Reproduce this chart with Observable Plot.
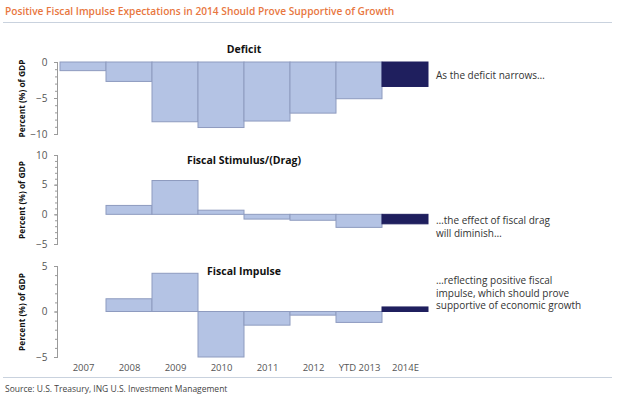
<!DOCTYPE html>
<html>
<head>
<meta charset="utf-8">
<script src="https://cdn.jsdelivr.net/npm/d3@7"></script>
<script src="https://cdn.jsdelivr.net/npm/@observablehq/plot@0.6"></script>
<style>
  body { margin: 0; background: #fff; }
  #chart { position: relative; width: 624px; height: 402px; overflow: hidden; font-family: "Open Sans", sans-serif; }
  .abs { position: absolute; white-space: nowrap; }
  #title { left: 5px; top: 4px; font-size: 10.2px; font-weight: 600; color: #e8773f; }
  .rule { position: absolute; left: 3px; width: 609px; height: 1px; background: #c9d2de; }
  .note { left: 436px; font-size: 10px; color: #333; line-height: 12.5px; }
  #source { left: 5px; top: 383px; font-size: 8.5px; color: #444; }
  .panel { position: absolute; left: 0; }
  .panel svg { display: block; }
</style>
</head>
<body>
<div id="chart">
  <div id="title" class="abs">Positive Fiscal Impulse Expectations in 2014 Should Prove Supportive of Growth</div>
  <div class="rule" style="top:22px"></div>
  <div id="p1" class="panel" style="top:40px"></div>
  <div id="p2" class="panel" style="top:140px"></div>
  <div id="p3" class="panel" style="top:250px"></div>
  <div class="abs note" style="top:69px">As the deficit narrows…</div>
  <div class="abs note" style="top:214px">…the effect of fiscal drag<br>will diminish…</div>
  <div class="abs note" style="top:274px">…reflecting positive fiscal<br>impulse, which should prove<br>supportive of economic growth</div>
  <div class="rule" style="top:377px"></div>
  <div id="source" class="abs">Source: U.S. Treasury, ING U.S. Investment Management</div>
</div>
<script>
// Fiscal balance measures, percent of GDP
const years = ["2007", "2008", "2009", "2010", "2011", "2012", "YTD 2013", "2014E"];
const deficit = [-1.2, -2.7, -8.3, -9.1, -8.2, -7.1, -5.1, -3.4];
const stimulus = [0, 1.5, 5.7, 0.7, -0.8, -1.0, -2.2, -1.6];
const impulse = [0, 1.4, 4.2, -5.0, -1.5, -0.4, -1.2, 0.5];

const deficitTicks = [0, -5, -10];
const stimulusTicks = [10, 5, 0, -5];
const impulseTicks = [5, 0, -5];

const light = "#b4c3e4";
const edge = "#8e9bbf";
const navy = "#1f1f5e";
const axisGray = "#9a9a9a";

function panel(values, opts) {
  const data = years.map((year, i) => ({year, value: values[i], estimate: year === "2014E"}));
  const [lo, hi] = opts.domain;
  return Plot.plot({
    width: 624,
    height: opts.height,
    marginTop: opts.mt,
    marginBottom: opts.mb,
    marginLeft: 57,
    marginRight: 194,
    x: {domain: years, padding: 0, label: null, ...(opts.xAxis ? {} : {axis: null})},
    y: {domain: [lo, hi], label: null},
    style: {fontFamily: "Open Sans, sans-serif", fontSize: "10px", color: "#555", background: "transparent"},
    marks: [
      Plot.barY(data, {
        x: "year", y: "value",
        fill: (d) => d.estimate ? navy : light,
        stroke: (d) => d.estimate ? navy : edge,
        strokeWidth: 1
      }),
      Plot.frame({anchor: "left", stroke: axisGray}),
      Plot.axisY({ticks: d3.range(lo, hi + 1), tickSize: 2, tickFormat: () => "", stroke: axisGray, label: null}),
      Plot.axisY({ticks: opts.ticks, tickSize: 3, tickPadding: 7, stroke: axisGray, fill: "#555", fontSize: 10, label: null}),
      opts.xAxis ? Plot.axisX({tickSize: 0, tickPadding: 7, fill: "#555", fontSize: 9.5, label: null}) : null,
      Plot.text([opts.title], {frameAnchor: "top", lineAnchor: "middle", dy: opts.titleDy, fontWeight: "bold", fontSize: 10.5, fill: "#111"}),
      Plot.text(["Percent (%) of GDP"], {frameAnchor: "left", textAnchor: "middle", rotate: -90, dx: -35, fontWeight: "bold", fontSize: 8.4, fill: "#111"})
    ]
  });
}

document.getElementById("p1").append(panel(deficit, {
  height: 100, mt: 22, mb: 6, domain: [-10, 0], ticks: deficitTicks, title: "Deficit", titleDy: -12.5
}));
document.getElementById("p2").append(panel(stimulus, {
  height: 110, mt: 15, mb: 6, domain: [-5, 10], ticks: stimulusTicks, title: "Fiscal Stimulus/(Drag)", titleDy: 5.5
}));
document.getElementById("p3").append(panel(impulse, {
  height: 125, mt: 16, mb: 18, domain: [-5, 5], ticks: impulseTicks, title: "Fiscal Impulse", titleDy: 5.5, xAxis: true
}));
</script>
</body>
</html>
